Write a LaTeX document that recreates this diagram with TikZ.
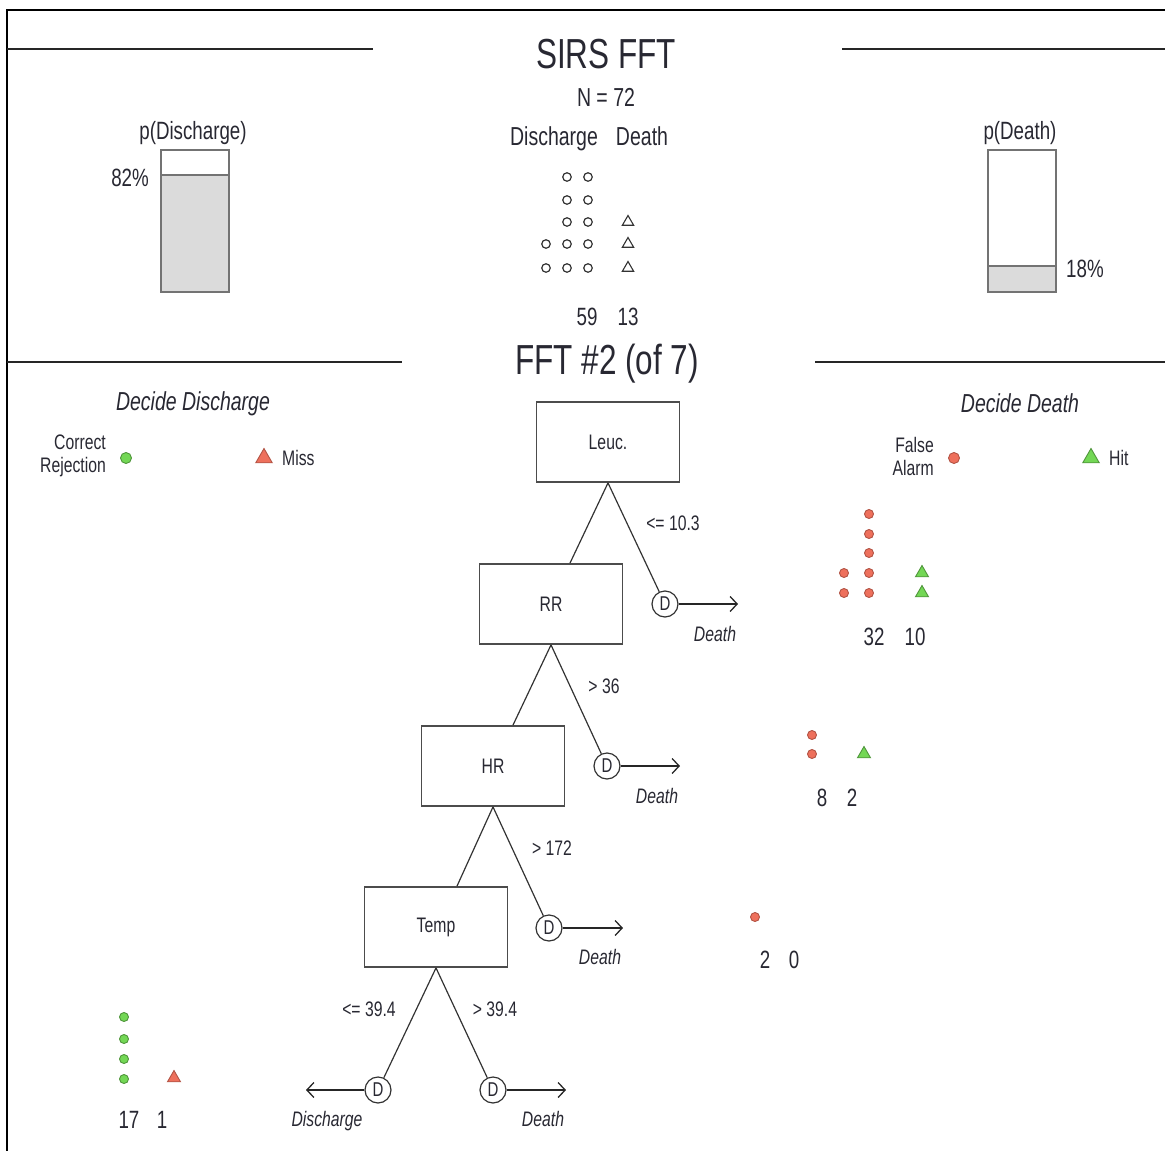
\documentclass[tikz,border=0pt]{standalone}
\usepackage{fontspec}
\setmainfont{Liberation Sans}[FakeStretch=0.75]
\usetikzlibrary{arrows.meta, positioning, shapes.geometric, calc}
\usepackage{xcolor}
\definecolor{fgreen}{RGB}{115,215,85}
\definecolor{fred}{RGB}{238,112,92}
\definecolor{ink}{RGB}{40,40,50}
\newcommand{\fsz}[2]{\fontsize{#1}{#2}\selectfont}

\begin{document}
\begin{tikzpicture}[
  x=1pt, y=-1pt,
  cue/.style={draw=black!70,line width=1.8pt,minimum width=143pt,minimum height=80pt,
              inner sep=0pt,text=ink,font=\fsz{21}{24}},
  dec/.style={circle,draw=black!80,line width=1.2pt,minimum size=26pt,inner sep=0pt,
              text=ink,font=\fsz{20}{22}},
  edge/.style={black!80,line width=1.2pt},
  arr/.style={-{Straight Barb[length=7pt,width=15pt]},black!85,line width=1.3pt},
  txt/.style={text=ink,inner sep=0pt,anchor=base},
  cond/.style={txt,font=\fsz{21}{24}},
  exit/.style={txt,font=\itshape\fsz{21}{24}},
  num/.style={txt,font=\fsz{25}{28}},
  opn/.style={circle,draw=black!80,line width=1.2pt,minimum size=8.5pt,inner sep=0pt},
  otri/.style={regular polygon,regular polygon sides=3,draw=black!80,line width=1.1pt,
               minimum size=13pt,inner sep=0pt},
  fa/.style={circle,draw=fred!75!black,fill=fred,line width=0.9pt,minimum size=9pt,inner sep=0pt},
  cr/.style={circle,draw=fgreen!70!black,fill=fgreen,line width=0.9pt,minimum size=9pt,inner sep=0pt},
  hit/.style={regular polygon,regular polygon sides=3,draw=fgreen!70!black,fill=fgreen,
              line width=0.9pt,minimum size=15pt,inner sep=0pt},
  miss/.style={regular polygon,regular polygon sides=3,draw=fred!75!black,fill=fred,
               line width=0.9pt,minimum size=15pt,inner sep=0pt},
  bar/.style={draw=black!55,line width=1.8pt},
  rule/.style={black!85,line width=2pt}
]
\useasboundingbox (0,0) rectangle (1165,1151);

% frame and rules
\draw[black,line width=2.4pt] (1165,10) -- (7,10) -- (7,1151);
\draw[rule] (7,49) -- (373,49);
\draw[rule] (842,49) -- (1165,49);
\draw[rule] (7,362) -- (402,362);
\draw[rule] (815,362) -- (1165,362);

% header
\node[txt,font=\fsz{42}{48}] (title) at (606,68) {SIRS FFT};
\node[txt,font=\fsz{26}{30}] (ntot) at (606,106) {N = 72};
\node[txt,font=\fsz{26}{30}] (hdis) at (554,145) {Discharge};
\node[txt,font=\fsz{26}{30}] (hdea) at (642,145) {Death};
\foreach \x/\y [count=\i] in {567/177,588/177,567/200,588/200,567/222,588/222,
                              546/244,567/244,588/244,546/268,567/268,588/268}
  \node[opn] (pd\i) at (\x,\y) {};
\foreach \y [count=\i] in {222,244,268}
  \node[otri] (pt\i) at (628,\y) {};
\node[num] (ndis) at (587,325) {59};
\node[num] (ndea) at (628,325) {13};

% base rate bars
\node[txt,font=\fsz{25}{28}] (pdis) at (193,139) {p(Discharge)};
\fill[black!14] (161,175) rectangle (229,292);
\draw[bar] (161,150) rectangle (229,292);
\draw[bar] (161,175) -- (229,175);
\node[txt,font=\fsz{25}{28},anchor=base east] (vdis) at (149,186) {82\%};

\node[txt,font=\fsz{25}{28}] (pdea) at (1020,139) {p(Death)};
\fill[black!14] (988,266) rectangle (1056,292);
\draw[bar] (988,150) rectangle (1056,292);
\draw[bar] (988,266) -- (1056,266);
\node[txt,font=\fsz{25}{28},anchor=base west] (vdea) at (1066,277) {18\%};

% second panel
\node[txt,font=\fsz{42}{48}] (sub) at (607,374) {FFT \#2 (of 7)};
\node[txt,font=\itshape\fsz{26}{30}] (ldis) at (193,410) {Decide Discharge};
\node[txt,font=\itshape\fsz{26}{30}] (ldea) at (1020,412) {Decide Death};

\node[text=ink,font=\fsz{21}{23},align=right,anchor=east,inner sep=0pt] (lcr) at (106,456) {Correct\\Rejection};
\node[cr,minimum size=11pt] (icr) at (126,458) {};
\node[miss,minimum size=19pt] (imiss) at (264,458) {};
\node[txt,font=\fsz{21}{24},anchor=base west] (lmiss) at (282,465) {Miss};

\node[text=ink,font=\fsz{21}{23},align=right,anchor=east,inner sep=0pt] (lfa) at (934,456) {False\\Alarm};
\node[fa,minimum size=11pt] (ifa) at (954,458) {};
\node[hit,minimum size=19pt] (ihit) at (1091,458) {};
\node[txt,font=\fsz{21}{24},anchor=base west] (lhit) at (1109,465) {Hit};

% tree
\node[cue] (leuc) at (608,442) {Leuc.};
\node[cue] (rr)   at (551,604) {RR};
\node[cue] (hr)   at (493,766) {HR};
\node[cue] (temp) at (436,927) {Temp};

\node[dec] (dA) at (665,604) {D};
\node[dec] (dB) at (607,766) {D};
\node[dec] (dC) at (549,928) {D};
\node[dec] (dL) at (378,1090) {D};
\node[dec] (dR) at (493,1090) {D};

\coordinate (eA) at (738,604);
\coordinate (eB) at (680,766);
\coordinate (eC) at (623,928);
\coordinate (eL) at (306,1090);
\coordinate (eR) at (566,1090);

\draw[edge] (leuc.south) -- ($(rr.north)+(19,0)$);
\draw[edge] (leuc.south) -- (dA);
\draw[edge] (rr.south) -- ($(hr.north)+(20,0)$);
\draw[edge] (rr.south) -- (dB);
\draw[edge] (hr.south) -- ($(temp.north)+(21,0)$);
\draw[edge] (hr.south) -- (dC);
\draw[edge] (temp.south) -- (dL);
\draw[edge] (temp.south) -- (dR);

\draw[arr] (dA) -- (eA);
\draw[arr] (dB) -- (eB);
\draw[arr] (dC) -- (eC);
\draw[arr] (dL) -- (eL);
\draw[arr] (dR) -- (eR);

\node[cond] (cA) at (673,530) {<= 10.3};
\node[cond] (cB) at (604,693) {> 36};
\node[cond] (cC) at (552,855) {> 172};
\node[cond] (cL) at (369,1016) {<= 39.4};
\node[cond] (cR) at (495,1016) {> 39.4};

\node[exit] (xA) at (715,641) {Death};
\node[exit] (xB) at (657,803) {Death};
\node[exit] (xC) at (600,964) {Death};
\node[exit] (xL) at (327,1126) {Discharge};
\node[exit] (xR) at (543,1126) {Death};

% leaf counts
\foreach \x/\y [count=\i] in {869/514,869/534,869/553,844/573,869/573,844/593,869/593}
  \node[fa] (aF\i) at (\x,\y) {};
\foreach \y [count=\i] in {573,593}
  \node[hit] (aH\i) at (922,\y) {};
\node[num] (naF) at (874,645) {32};
\node[num] (naH) at (915,645) {10};

\foreach \y [count=\i] in {735,754}
  \node[fa] (bF\i) at (812,\y) {};
\node[hit] (bH1) at (864,754) {};
\node[num] (nbF) at (822,806) {8};
\node[num] (nbH) at (852,806) {2};

\node[fa] (cF1) at (755,917) {};
\node[num] (ncF) at (765,968) {2};
\node[num] (ncH) at (794,968) {0};

\foreach \y [count=\i] in {1017,1039,1059,1079}
  \node[cr] (dC\i) at (124,\y) {};
\node[miss] (dM1) at (174,1078) {};
\node[num] (ndC) at (129,1128) {17};
\node[num] (ndM) at (162,1128) {1};
\end{tikzpicture}
\end{document}
